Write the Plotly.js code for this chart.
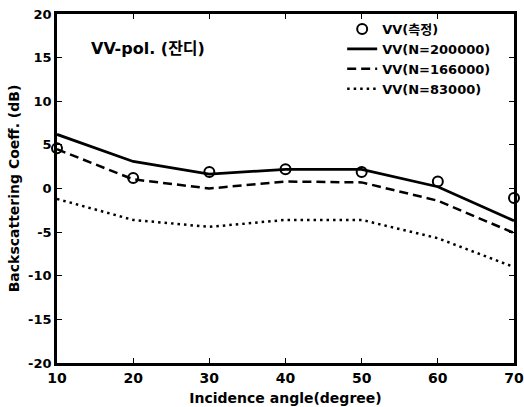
<!DOCTYPE html>
<html><head><meta charset="utf-8">
<script src="https://cdn.plot.ly/plotly-3.0.1.min.js"></script>
<style>html,body{margin:0;padding:0;background:#fff}#c{width:524px;height:407px}</style>
</head><body><div id="c"></div>
<script>
const angles = [10, 20, 30, 40, 50, 60, 70];
const measured = [4.6, 1.2, 1.9, 2.2, 1.9, 0.8, -1.1];
const n200000 = [6.2, 3.1, 1.65, 2.2, 2.2, 0.2, -3.7];
const n166000 = [4.5, 1.05, 0.0, 0.8, 0.7, -1.4, -5.1];
const n83000 = [-1.2, -3.6, -4.4, -3.6, -3.6, -5.7, -9.0];
const names = ['VV(측정)', 'VV(N=200000)', 'VV(N=166000)', 'VV(N=83000)'];
const yTicks = [-20, -15, -10, -5, 0, 5, 10, 15, 20];
const xTicks = [10, 20, 30, 40, 50, 60, 70];

const fam = '"DejaVu Sans", "Noto Sans CJK KR", sans-serif';
const traces = [
  {x: angles, y: measured, name: names[0], mode: 'markers', type: 'scatter',
   marker: {symbol: 'circle-open', size: 10, color: '#000', line: {width: 2, color: '#000'}}, cliponaxis: false},
  {x: angles, y: n200000, name: names[1], mode: 'lines', type: 'scatter', line: {color: '#000', width: 2.8, dash: 'solid'}},
  {x: angles, y: n166000, name: names[2], mode: 'lines', type: 'scatter', line: {color: '#000', width: 2.5, dash: '9px,5px'}},
  {x: angles, y: n83000, name: names[3], mode: 'lines', type: 'scatter', line: {color: '#000', width: 2.5, dash: '2.5px,4px'}}
];
const axisCommon = {
  showgrid: false, zeroline: false, showline: true, linecolor: '#000', linewidth: 2.8,
  mirror: 'ticks', ticks: 'inside', ticklen: 5, tickwidth: 1, tickcolor: '#000'
};
const layout = {
  width: 524, height: 407,
  margin: {l: 57, r: 10, t: 14, b: 44},
  paper_bgcolor: '#fff', plot_bgcolor: '#fff',
  showlegend: true,
  legend: {x: 0.624, y: 1.0, xanchor: 'left', yanchor: 'top', bgcolor: 'rgba(0,0,0,0)',
           font: {family: fam, size: 13, color: '#000', weight: 'bold'}, tracegroupgap: 0},
  xaxis: Object.assign({}, axisCommon, {range: [10, 70], tickvals: xTicks, ticktext: xTicks.map(String),
    tickfont: {family: fam, size: 14, color: '#000', weight: 'bold'},
    title: {text: 'Incidence angle(degree)', font: {family: fam, size: 14, color: '#000', weight: 'bold'}, standoff: 9}}),
  yaxis: Object.assign({}, axisCommon, {range: [-20, 20], tickvals: yTicks, ticktext: yTicks.map(String),
    tickfont: {family: fam, size: 13, color: '#000', weight: 'bold'},
    title: {text: 'Backscattering Coeff. (dB)', font: {family: fam, size: 14, color: '#000', weight: 'bold'}, standoff: 6}}),
  annotations: [{xref: 'paper', yref: 'paper', x: 0.07, y: 0.9, xanchor: 'left', yanchor: 'middle',
    text: 'VV-pol. (잔디)', showarrow: false, font: {family: fam, size: 16, color: '#000', weight: 'bold'}}]
};
Plotly.newPlot('c', traces, layout, {displayModeBar: false, staticPlot: true});
</script></body></html>
